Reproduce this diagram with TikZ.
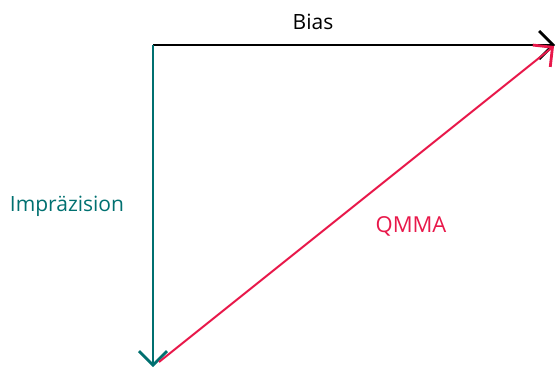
\documentclass[tikz,border=0pt]{standalone}
\usepackage{fontspec}
\setmainfont{Open Sans}
\usetikzlibrary{positioning, arrows.meta}

\definecolor{tealvec}{RGB}{0,112,112}
\definecolor{redvec}{RGB}{232,24,74}

\begin{document}
\begin{tikzpicture}[x=1pt,y=-1pt,
    vec/.style={line width=2.8pt, -{Straight Barb[length=14pt,width=28pt,line width=2.8pt]}},
    lbl/.style={font=\fontsize{21}{24}\selectfont}]

% Marco de la figura
\useasboundingbox (0,0) rectangle (556,370);

% Puntos de los vectores
\coordinate (O) at (153,45);
\coordinate (B) at (555,45);
\coordinate (I) at (153,367);
\coordinate (Q0) at (159,362);
\coordinate (Q1) at (554,46);

% Vector del sesgo
\draw[vec,black] (O) -- (B);
\node[lbl] (bias) at (313,22) {Bias};

% Vector de la imprecision
\draw[vec,tealvec] (O) -- (I);
\node[lbl,text=tealvec] (imp) at (67,206) {Impräzision};

% Vector resultante
\draw[vec,redvec,line width=2pt] (Q0) -- (Q1);
\node[lbl,text=redvec,font=\fontsize{22}{24}\selectfont] (qmma) at (411,226) {QMMA};

\end{tikzpicture}
\end{document}
